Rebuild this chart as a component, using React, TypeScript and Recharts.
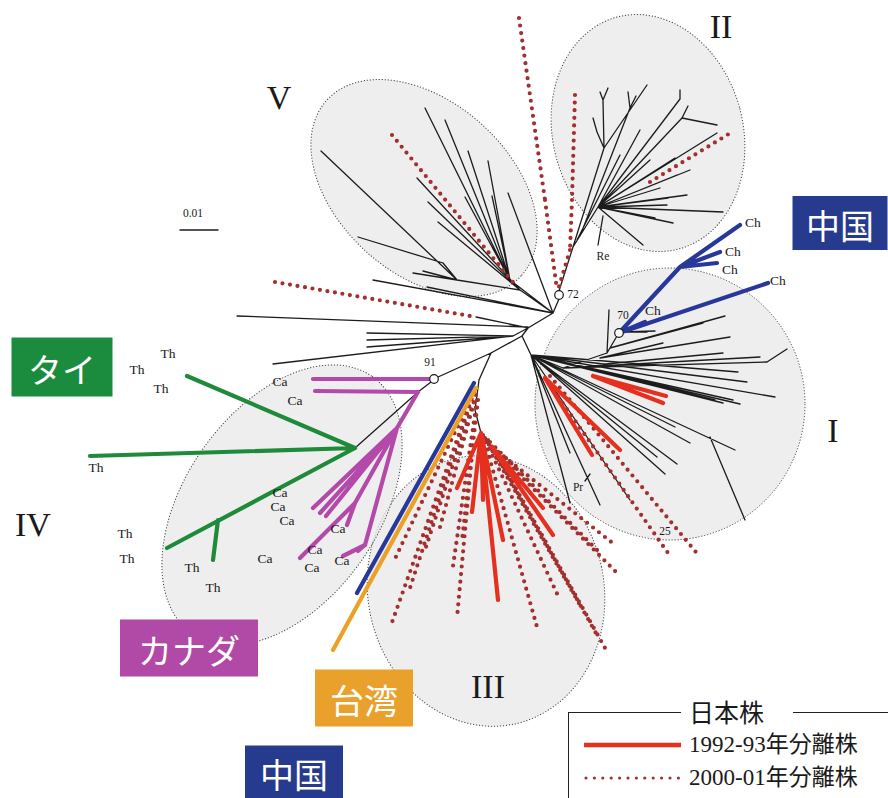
import React from 'react';
import { ComposedChart, XAxis, YAxis, Line, Scatter } from 'recharts';

// Unrooted tree of isolates; every branch is a segment [x1, y1, x2, y2]
// in the chart's own coordinate space (0..888 across, 0..798 down).
type Seg = [number, number, number, number];

const W = 888;
const H = 798;

const blackBranches: Seg[] = [
  // trunk
  [528, 328, 553, 313], [553, 313, 559, 299], [528, 328, 522, 336],
  [522, 336, 491, 353], [491, 353, 438, 377], [522, 336, 531, 355],
  [491, 353, 479, 380], [479, 380, 475, 410], [475, 410, 481, 433], [481, 433, 492, 447],
  // long branches to the left
  [237, 316, 528, 327], [476, 317, 528, 328], [513, 336, 528, 328],
  [367, 333, 513, 336], [367, 340, 513, 336], [367, 347, 513, 336], [273, 364, 513, 336],
  [373, 280, 553, 313], [427, 287, 553, 313],
  // clade V
  [510, 280, 553, 313], [425, 108, 510, 280], [445, 120, 510, 280], [468, 151, 510, 280],
  [488, 161, 510, 280], [492, 196, 510, 280], [465, 197, 510, 280], [508, 193, 553, 313],
  [520, 290, 553, 313], [417, 178, 520, 290], [428, 202, 520, 290], [438, 222, 520, 290],
  [457, 280, 520, 290], [321, 151, 457, 280], [443, 263, 457, 280], [358, 237, 443, 263],
  [413, 273, 457, 280], [423, 271, 457, 280],
  // clade II
  [559, 291, 573, 247], [573, 247, 598, 207], [573, 247, 604, 148], [604, 148, 603, 100],
  [603, 100, 600, 92], [603, 100, 608, 88], [604, 148, 597, 132], [597, 132, 593, 118],
  [604, 148, 647, 85], [577, 240, 620, 155], [580, 236, 630, 108], [630, 108, 628, 92],
  [630, 108, 636, 96], [598, 207, 680, 99], [680, 99, 680, 90], [598, 207, 682, 118],
  [682, 118, 688, 106], [682, 118, 717, 125], [598, 207, 717, 133], [598, 207, 640, 130],
  [598, 207, 675, 158], [598, 207, 690, 170], [598, 207, 677, 175], [598, 207, 687, 195],
  [598, 207, 723, 212], [598, 207, 673, 223], [598, 207, 667, 205], [598, 207, 643, 245],
  [598, 207, 655, 218], [598, 207, 660, 188], [598, 207, 650, 160], [598, 207, 668, 198],
  [598, 245, 603, 216],
  // clade I
  [531, 355, 563, 368], [563, 368, 607, 353], [607, 353, 609, 310], [607, 353, 617, 336],
  [621, 332, 647, 332], [621, 332, 655, 331], [610, 348, 703, 323], [610, 348, 725, 316],
  [600, 358, 730, 337], [600, 358, 663, 343], [563, 368, 723, 353], [563, 368, 760, 357],
  [563, 368, 767, 362], [767, 362, 787, 349],
  [531, 355, 738, 372], [531, 355, 747, 382], [531, 355, 775, 397], [531, 355, 740, 404],
  [531, 355, 733, 400], [531, 355, 723, 403], [531, 355, 715, 400], [531, 355, 675, 427],
  [531, 355, 690, 443], [531, 355, 735, 450], [710, 437, 745, 520], [531, 355, 677, 464],
  [531, 355, 665, 474], [531, 355, 657, 457], [531, 355, 630, 500], [531, 355, 600, 505],
  [531, 355, 570, 453], [531, 355, 570, 503], [585, 481, 590, 474],
  // clade IV backbone
  [431, 382, 418, 392], [418, 392, 355, 448],
  // scale bar
  [180, 230, 218, 230],
];

const red9293: Seg[] = [
  [593, 376, 666, 396], [593, 376, 663, 403], [545, 378, 592, 455], [545, 378, 620, 450],
  [481, 433, 457, 488], [481, 433, 472, 512], [481, 433, 483, 500], [481, 433, 498, 600],
  [481, 433, 503, 540], [492, 447, 543, 508], [492, 447, 553, 535],
];

const dotted0001: Seg[] = [
  [519, 18, 545, 200], [545, 200, 557, 290],
  [575, 95, 572, 200], [572, 200, 570, 250], [570, 250, 558, 290],
  [392, 135, 517, 287], [275, 282, 476, 317], [650, 182, 732, 132],
  [545, 378, 668, 553], [550, 376, 700, 557],
  [474, 392, 390, 628], [474, 392, 393, 563], [474, 392, 410, 588], [476, 395, 425, 550],
  [476, 395, 440, 527], [477, 400, 452, 573], [477, 400, 457, 618], [478, 400, 462, 540],
  [483, 435, 537, 627], [483, 435, 560, 600], [485, 438, 580, 605], [488, 440, 597, 635],
  [490, 442, 605, 648], [490, 442, 600, 553], [492, 447, 617, 573], [492, 447, 615, 545],
];

const chinaBranches: Seg[] = [
  [474, 383, 357, 593],
  [619, 333, 680, 267], [680, 267, 740, 225], [680, 267, 720, 252], [680, 267, 717, 263],
  [619, 333, 768, 283], [619, 333, 645, 322],
];

const thaiBranches: Seg[] = [
  [355, 448, 187, 376], [355, 448, 90, 456], [355, 448, 167, 548], [218, 520, 213, 560],
];

const canadaBranches: Seg[] = [
  [434, 379, 313, 379], [418, 392, 315, 391], [418, 392, 397, 428],
  [397, 428, 313, 508], [397, 428, 320, 513], [397, 428, 326, 516],
  [397, 428, 355, 503], [355, 503, 300, 558], [355, 503, 347, 525],
  [397, 428, 365, 545], [365, 545, 343, 556], [365, 545, 358, 551],
];

const taiwanBranches: Seg[] = [[476, 388, 333, 650]];

const bootstrapNodes = [
  { x: 559, y: 295 }, { x: 619, y: 333 }, { x: 434, y: 379 },
];

// clade outlines: centre, radii, tilt
const clades = [
  { x: 424, y: 188, rx: 131, ry: 86, angle: 42 },   // V
  { x: 648, y: 133, rx: 95, ry: 120, angle: -15 },  // II
  { x: 670, y: 404, rx: 135, ry: 136, angle: 0 },   // I
  { x: 486, y: 591, rx: 118, ry: 136, angle: -12 }, // III
  { x: 282, y: 505, rx: 157, ry: 97, angle: -55 },  // IV
];

const cladeNames = [
  { x: 279, y: 97, t: 'V' }, { x: 721, y: 26, t: 'II' }, { x: 833, y: 430, t: 'I' },
  { x: 488, y: 686, t: 'III' }, { x: 33, y: 524, t: 'IV' },
];

const smallLabels = [
  { x: 573, y: 294, t: '72' }, { x: 623, y: 315, t: '70' }, { x: 430, y: 362, t: '91' },
  { x: 665, y: 531, t: '25' }, { x: 603, y: 256, t: 'Re' }, { x: 578, y: 487, t: 'Pr' },
  { x: 193, y: 213, t: '0.01' },
];

const strainLabels = [
  { x: 753, y: 222, t: 'Ch' }, { x: 733, y: 251, t: 'Ch' }, { x: 730, y: 269, t: 'Ch' },
  { x: 778, y: 280, t: 'Ch' }, { x: 653, y: 310, t: 'Ch' },
  { x: 168, y: 353, t: 'Th' }, { x: 137, y: 369, t: 'Th' }, { x: 161, y: 388, t: 'Th' },
  { x: 96, y: 467, t: 'Th' }, { x: 125, y: 533, t: 'Th' }, { x: 127, y: 558, t: 'Th' },
  { x: 192, y: 567, t: 'Th' }, { x: 213, y: 587, t: 'Th' },
  { x: 280, y: 381, t: 'Ca' }, { x: 295, y: 400, t: 'Ca' }, { x: 280, y: 492, t: 'Ca' },
  { x: 278, y: 506, t: 'Ca' }, { x: 287, y: 520, t: 'Ca' }, { x: 338, y: 528, t: 'Ca' },
  { x: 315, y: 549, t: 'Ca' }, { x: 265, y: 558, t: 'Ca' }, { x: 312, y: 567, t: 'Ca' },
  { x: 342, y: 560, t: 'Ca' },
];

const countryTags = [
  { x: 62, y: 367, w: 101, h: 59, t: 'タイ', c: '#1b8b3d' },
  { x: 840, y: 223, w: 95, h: 54, t: '中国', c: '#263a8e' },
  { x: 189, y: 648, w: 138, h: 57, t: 'カナダ', c: '#b14aa7' },
  { x: 364, y: 698, w: 98, h: 57, t: '台湾', c: '#e9a12c' },
  { x: 294, y: 772, w: 98, h: 53, t: '中国', c: '#263a8e' },
];

const SERIF = "'Liberation Serif', 'DejaVu Serif', serif";
const JP = "'Noto Sans CJK JP', sans-serif";
const MIX = "'Liberation Serif', 'Noto Sans CJK JP', serif";

const toPath = (segs: Seg[]) =>
  segs.flatMap(([x1, y1, x2, y2]) => [
    { x: x1, y: y1 },
    { x: x2, y: y2 },
    { x: x2, y: null },
  ]);

const EllipseShape = (p: any) => {
  const { cx, cy, payload } = p;
  return (
    <ellipse
      cx={cx} cy={cy} rx={payload.rx} ry={payload.ry}
      transform={`rotate(${payload.angle} ${cx} ${cy})`}
      fill="#e8e8e8" fillOpacity={0.75}
      stroke="#444" strokeWidth={1} strokeDasharray="1.2 1.8"
    />
  );
};

const textShape = (size: number, family: string) => (p: any) => (
  <text x={p.cx} y={p.cy} fontSize={size} fontFamily={family} fill="#1a1a1a"
    textAnchor="middle" dominantBaseline="central">
    {p.payload.t}
  </text>
);

const TagShape = (p: any) => {
  const { cx, cy, payload } = p;
  return (
    <g>
      <rect x={cx - payload.w / 2} y={cy - payload.h / 2} width={payload.w} height={payload.h} fill={payload.c} />
      <text x={cx} y={cy + 1} fontSize={34} fontFamily={JP} fill="#fff"
        textAnchor="middle" dominantBaseline="central">{payload.t}</text>
    </g>
  );
};

const NodeShape = (p: any) => (
  <circle cx={p.cx} cy={p.cy} r={4.3} fill="#fff" stroke="#1a1a1a" strokeWidth={1.2} />
);

const lineStyles: { segs: Seg[]; stroke: string; width: number; dash?: string }[] = [
  { segs: blackBranches, stroke: '#1c1c1c', width: 1.3 },
  { segs: dotted0001, stroke: '#a3302f', width: 4.2, dash: '0 7.6' },
  { segs: red9293, stroke: '#e6301f', width: 4.2 },
  { segs: chinaBranches, stroke: '#27379a', width: 4.2 },
  { segs: taiwanBranches, stroke: '#eba128', width: 4.2 },
  { segs: thaiBranches, stroke: '#1e8a3a', width: 4.2 },
  { segs: canadaBranches, stroke: '#b34aaa', width: 4.2 },
];

export default function App() {
  return (
    <div style={{ position: 'absolute', left: 0, top: 0, width: W, height: H, background: '#fff', overflow: 'hidden' }}>
      <ComposedChart width={W} height={H} margin={{ top: 0, right: 0, bottom: 0, left: 0 }}>
        <XAxis type="number" dataKey="x" domain={[0, W]} allowDataOverflow hide />
        <YAxis type="number" dataKey="y" domain={[0, H]} allowDataOverflow reversed hide />
        <Scatter data={clades} shape={EllipseShape} isAnimationActive={false} zIndex={50} />
        {lineStyles.map((s, i) => (
          <Line
            key={i}
            data={toPath(s.segs)}
            dataKey="y"
            type="linear"
            stroke={s.stroke}
            strokeWidth={s.width}
            strokeDasharray={s.dash}
            strokeLinecap="round"
            dot={false}
            activeDot={false}
            connectNulls={false}
            isAnimationActive={false}
          />
        ))}
        <Scatter data={bootstrapNodes} shape={NodeShape} isAnimationActive={false} />
        <Scatter data={cladeNames} shape={textShape(34, SERIF)} isAnimationActive={false} />
        <Scatter data={smallLabels} shape={textShape(11.5, SERIF)} isAnimationActive={false} />
        <Scatter data={strainLabels} shape={textShape(13.5, SERIF)} isAnimationActive={false} />
        <Scatter data={countryTags} shape={TagShape} isAnimationActive={false} />
      </ComposedChart>

      {/* legend */}
      <div style={{ position: 'absolute', left: 568, top: 712, width: 320, height: 86, borderLeft: '1.5px solid #222' }}>
        <div style={{ position: 'absolute', left: 0, top: 0, width: 112, borderTop: '1.5px solid #222' }} />
        <div style={{ position: 'absolute', left: 224, top: 0, width: 96, borderTop: '1.5px solid #222' }} />
        <div style={{ position: 'absolute', left: 120, top: -16, fontFamily: JP, fontSize: 25, lineHeight: '30px', color: '#1a1a1a' }}>日本株</div>
        <svg style={{ position: 'absolute', left: 0, top: 20 }} width={120} height={60}>
          <line x1={15} y1={13} x2={112} y2={13} stroke="#e6301f" strokeWidth={4.5} />
          <line x1={17} y1={46} x2={112} y2={46} stroke="#a3302f" strokeWidth={3.2} strokeDasharray="0 8.4" strokeLinecap="round" />
        </svg>
        <div style={{ position: 'absolute', left: 120, top: 18, fontFamily: MIX, fontSize: 23, lineHeight: '30px', color: '#1a1a1a', whiteSpace: 'nowrap' }}>1992-93年分離株</div>
        <div style={{ position: 'absolute', left: 120, top: 51, fontFamily: MIX, fontSize: 23, lineHeight: '30px', color: '#1a1a1a', whiteSpace: 'nowrap' }}>2000-01年分離株</div>
      </div>
    </div>
  );
}
